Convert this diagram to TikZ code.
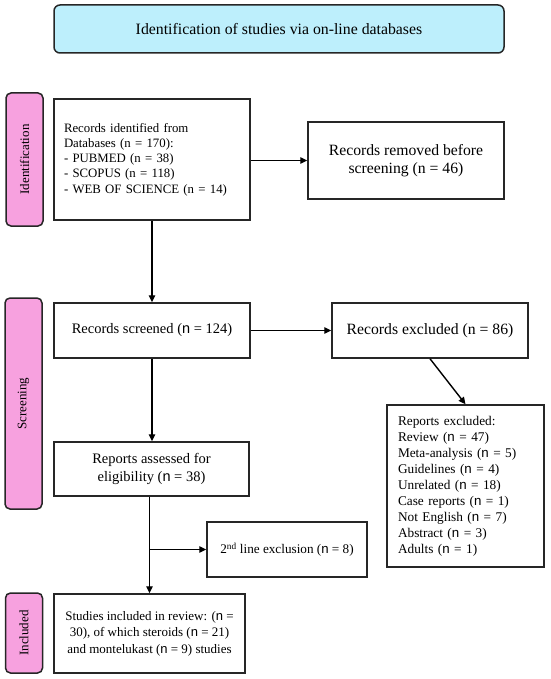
\documentclass[tikz,border=0pt]{standalone}
\usepackage{fontspec}
\setmainfont{Liberation Serif}
\newfontfamily\sansn{Liberation Sans}
\usetikzlibrary{arrows.meta}
\definecolor{pinkfill}{HTML}{F7A1DF}
\definecolor{cyanfill}{HTML}{BDEFFC}
\definecolor{edge}{HTML}{262626}
\newcommand{\sn}{{\sansn n}}
\tikzset{
  box/.style={draw=edge, line width=1.5pt, fill=white, inner sep=0pt, align=center},
  sidelabel/.style={draw=edge, line width=1.5pt, fill=pinkfill, rounded corners=5pt,
    rotate=90, inner sep=0pt, font=\fontsize{13}{15}\selectfont},
  arr/.style={draw=black, line width=1.4pt, -{Triangle[length=7pt,width=6.5pt]}},
}
\begin{document}
\begin{tikzpicture}[x=1pt,y=-1pt]
\useasboundingbox (0,0) rectangle (550,679);

% title
\node[box, fill=cyanfill, rounded corners=6pt, minimum width=450pt, minimum height=48pt,
  font=\fontsize{15.8}{18}\selectfont] (title) at (279,29)
  {Identification of studies via on-line databases};

% side labels
\node[sidelabel, minimum width=133pt, minimum height=37pt] (lid) at (24.5,159.5) {Identification};
\node[sidelabel, minimum width=211pt, minimum height=37pt] (lscr) at (23.5,403.5) {Screening};
\node[sidelabel, minimum width=80pt, minimum height=37pt] (linc) at (24,633) {Included};

% boxes
\node[box, align=left, text width=176pt, inner xsep=10pt, minimum height=121pt,
  font=\fontsize{12.8}{15.2}\selectfont] (ident) at (152,159.5)
  {Records identified from\\ Databases (n = 170):\\ - PUBMED (n = 38)\\ - SCOPUS (n = 118)\\ - WEB OF SCIENCE (n = 14)};

\node[box, minimum width=196pt, minimum height=77pt,
  font=\fontsize{15.7}{18.3}\selectfont] (removed) at (406,160.5)
  {Records removed before\\ screening (n = 46)};

\node[box, minimum width=196pt, minimum height=55pt,
  font=\fontsize{14.5}{17}\selectfont] (screened) at (152,330.5)
  {Records screened (\sn{} = 124)};

\node[box, minimum width=196pt, minimum height=55pt,
  font=\fontsize{15.7}{18.3}\selectfont] (excluded) at (430,330.5)
  {Records excluded (n = 86)};

\node[box, align=left, text width=135pt, inner xsep=11pt, minimum height=162pt,
  font=\fontsize{13.3}{16}\selectfont] (repexcl) at (465.5,486)
  {Reports excluded:\\ Review (\sn{} = 47)\\ Meta-analysis (\sn{} = 5)\\ Guidelines (\sn{} = 4)\\ Unrelated (\sn{} = 18)\\ Case reports (\sn{} = 1)\\ Not English (\sn{} = 7)\\ Abstract (\sn{} = 3)\\ Adults (\sn{} = 1)};

\node[box, minimum width=195pt, minimum height=54pt,
  font=\fontsize{14.5}{18.3}\selectfont] (assessed) at (151.5,469)
  {Reports assessed for\\ eligibility (\sn{} = 38)};

\node[box, minimum width=160pt, minimum height=55pt,
  font=\fontsize{13.2}{15.5}\selectfont] (second) at (287,549.5)
  {2\textsuperscript{nd} line exclusion (\sn{} = 8)};

\node[box, minimum width=191pt, minimum height=79pt,
  font=\fontsize{13}{16.5}\selectfont] (included) at (149.5,633.5)
  {Studies included in review: (\sn{} =\\ 30), of which steroids (\sn{} = 21)\\ and montelukast (\sn{} = 9) studies};

% connectors
\draw[arr] (ident.south) -- (screened.north);
\draw[arr] (ident.east |- removed.west) -- (removed.west);
\draw[arr] (screened.east) -- (excluded.west);
\draw[arr] (screened.south) -- (screened.south |- assessed.north);
\draw[arr] (excluded.south) -- (repexcl.north);
\coordinate (top) at ([xshift=-2pt]assessed.south);
\coordinate (br) at (top |- second.west);
\draw[arr] (top) -- (top |- included.north);
\draw[arr] (br) -- (second.west);
\end{tikzpicture}
\end{document}
